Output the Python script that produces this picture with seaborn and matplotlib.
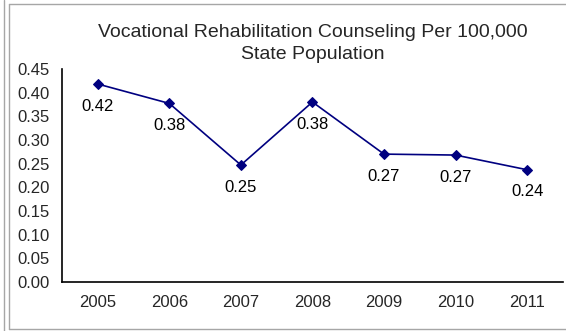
import matplotlib
matplotlib.use("Agg")
import matplotlib.pyplot as plt
from matplotlib.lines import Line2D
from matplotlib.ticker import FixedLocator, NullFormatter
import pandas as pd
import seaborn as sns

years = ["2005", "2006", "2007", "2008", "2009", "2010", "2011"]
rates = [0.418, 0.377, 0.247, 0.380, 0.270, 0.268, 0.237]
labels = ["0.42", "0.38", "0.25", "0.38", "0.27", "0.27", "0.24"]
yticks = [0.00, 0.05, 0.10, 0.15, 0.20, 0.25, 0.30, 0.35, 0.40, 0.45]

sns.set_style("white")
plt.rcParams["font.family"] = ["Liberation Sans", "DejaVu Sans"]

df = pd.DataFrame({"year": years, "rate": rates})

fig = plt.figure(figsize=(5.66, 3.31), dpi=100)
ax = fig.add_axes([0.1095, 0.148, 0.885, 0.644])

sns.lineplot(data=df, x="year", y="rate", ax=ax, color="#000080",
             marker="D", markersize=5.5, markeredgecolor="#000080",
             linewidth=1.2, sort=False)

# value labels under each point
for i, (v, lab) in enumerate(zip(rates, labels)):
    ax.annotate(lab, (i, v), xytext=(0, -16), textcoords="offset points",
                ha="center", va="center", fontsize=12, color="black")

ax.set_xlim(-0.5, len(years) - 0.5)
ax.set_ylim(0, 0.45)
ax.set_yticks(yticks)
ax.set_yticklabels([f"{t:.2f}" for t in yticks], fontsize=12)
ax.set_xticks(range(len(years)))
ax.set_xticklabels(years, fontsize=12)
ax.xaxis.set_minor_locator(FixedLocator([i - 0.5 for i in range(len(years) + 1)]))
ax.xaxis.set_minor_formatter(NullFormatter())
ax.tick_params(axis="x", which="major", length=0, pad=9)
ax.tick_params(axis="x", which="minor", length=4, color="#a0a0a0", direction="out")
ax.tick_params(axis="y", length=4, color="#a0a0a0", direction="out", pad=5)
ax.set_xlabel("")
ax.set_ylabel("")

for side in ["top", "right"]:
    ax.spines[side].set_visible(False)
for side in ["left", "bottom"]:
    ax.spines[side].set_color("black")
    ax.spines[side].set_linewidth(1.2)

fig.text(0.552, 0.869, "Vocational Rehabilitation Counseling Per 100,000\nState Population",
         ha="center", va="center", fontsize=14, linespacing=1.4)

# chart frame lines
gray = "#a6a6a6"
top = 1 - 4 / 331
bottom = 2 / 331
fig.add_artist(Line2D([9 / 566, 9 / 566], [bottom, top], color=gray, lw=1))
fig.add_artist(Line2D([9 / 566, 1], [top, top], color=gray, lw=1))
fig.add_artist(Line2D([9 / 566, 1], [bottom, bottom], color=gray, lw=1))
fig.add_artist(Line2D([3.5 / 566, 3.5 / 566], [0, 1], color=gray, lw=1))

fig.savefig("out.png", dpi=100)
